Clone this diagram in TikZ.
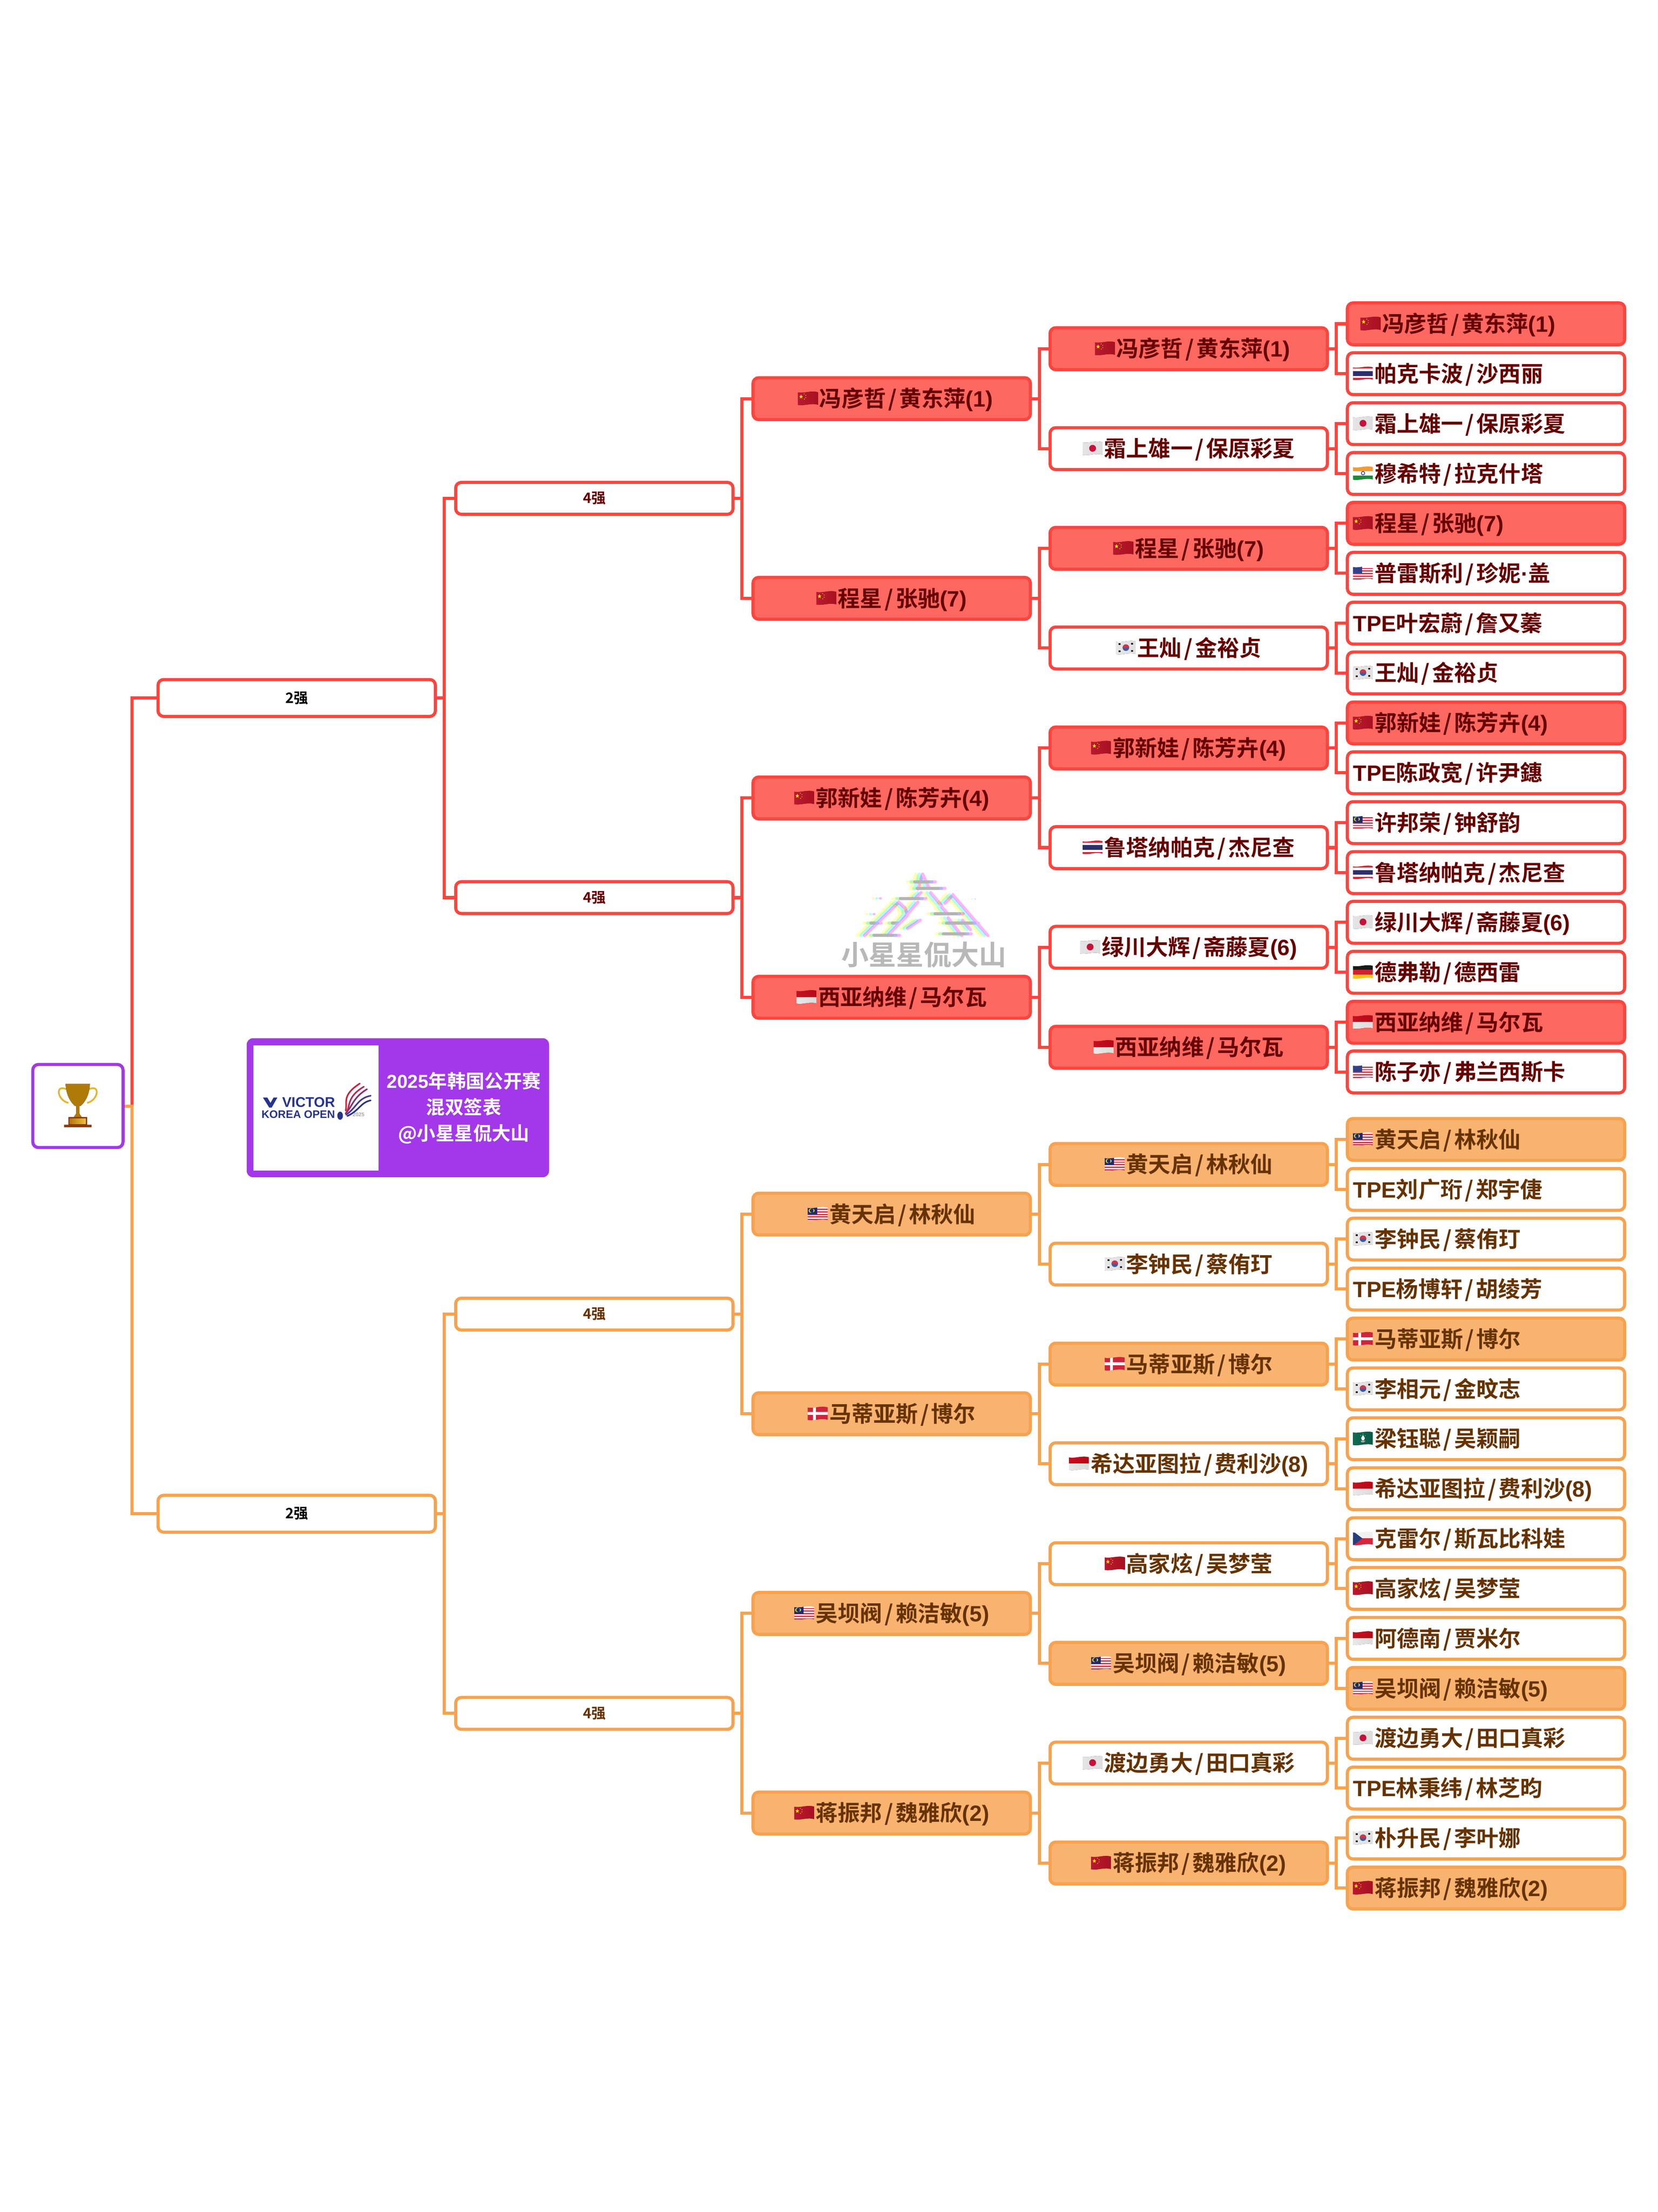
\documentclass[tikz,border=0pt]{standalone}
\usepackage{fontspec}
\usepackage{xcolor}
\usepackage{tikz}
\usetikzlibrary{calc}

\setmainfont[BoldFont={Noto Sans CJK SC Bold}]{Noto Sans CJK SC}
\newfontfamily\latinbold[BoldFont={Liberation Sans Bold}]{Liberation Sans}

\definecolor{redline}{HTML}{FB453F}
\definecolor{redfill}{HTML}{FD6860}
\definecolor{redtext}{HTML}{660000}
\definecolor{orgline}{HTML}{F7A24F}
\definecolor{orgfill}{HTML}{F9B370}
\definecolor{orgtext}{HTML}{663300}
\definecolor{rootline}{HTML}{A238E9}
\definecolor{logoblue}{HTML}{27348B}
\definecolor{wmgray}{HTML}{B8B8B8}
\definecolor{wmy}{HTML}{FFFFB4}
\definecolor{wmc}{HTML}{B4FFFF}
\definecolor{wmm}{HTML}{FFB4FF}
\definecolor{golddark}{HTML}{B07A08}
\definecolor{goldlight}{HTML}{F2C23C}
\definecolor{plinth}{HTML}{8A3A0E}
% colours of the flags and the feather, named by their value
\newcommand{\hexcol}[1]{\definecolor{#1}{HTML}{#1}}
\hexcol{B81A30}\hexcol{D43048}\hexcol{A81020}\hexcol{D72638}\hexcol{2B2F6E}\hexcol{E4E4E4}
\hexcol{DDDDDD}\hexcol{C8103A}\hexcol{F39A33}\hexcol{1E8A3A}\hexcol{1F2F8A}\hexcol{D8344A}
\hexcol{34408A}\hexcol{E6E6E6}\hexcol{E0E0E0}\hexcol{3A5FA0}\hexcol{D0344A}\hexcol{E8E8E8}
\hexcol{DCDCDC}\hexcol{C41020}\hexcol{E02A30}\hexcol{B80818}\hexcol{1C2A72}\hexcol{D0243C}
\hexcol{0F6B52}\hexcol{0A5A46}\hexcol{F5C518}\hexcol{D4202C}\hexcol{1A1A1A}\hexcol{D8243C}
\hexcol{F0F0F0}\hexcol{24407A}\hexcol{D0203C}\hexcol{B02A5C}\hexcol{8A3070}\hexcol{4A3A90}

% seed numbers and the slash between the two players
\newcommand{\seednum}[1]{{\latinbold(#1)}}
\newcommand{\pairsep}{\hbox to .6em{\hss/\hss}}
\newcommand{\tpe}{{\latinbold TPE}}

% flags, drawn inside the node text
\newcommand{\natflag}[1]{\tikz[x=1pt,y=1pt,sharp corners,baseline=-.66pt]{%
  \path[use as bounding box] (0,0) rectangle (6.9,4);
  \clip (0,0) .. controls (2.2,-.4) and (4,.7) .. (6.4,.05) -- (6.4,4.05)
     .. controls (4,4.7) and (2.2,3.6) .. (0,4) -- cycle;
  \csname flag#1\endcsname}}
\newcommand{\flagcn}{%
  \fill[left color=B81A30,middle color=D43048,right color=A81020] (0,-1) rectangle (6.4,5);
  \fill[yellow!90!orange] (1,3.35) -- (1.18,2.85) -- (1.6,2.85) -- (1.27,2.55) -- (1.4,2.05)
     -- (1,2.35) -- (.6,2.05) -- (.73,2.55) -- (.4,2.85) -- (.82,2.85) -- cycle;
  \foreach \sx/\sy in {2/3.5,2.5/3.05,2.5/2.35,2.05/1.85} \fill[yellow] (\sx,\sy) circle (.14);}
\newcommand{\flagth}{%
  \fill[D72638] (0,-1) rectangle (6.4,5);
  \fill[white] (0,.6) rectangle (6.4,3.6);
  \fill[2B2F6E] (0,1.3) rectangle (6.4,2.8);}
\newcommand{\flagjp}{%
  \fill[left color=E4E4E4,middle color=white,right color=DDDDDD] (0,-1) rectangle (6.4,5);
  \fill[C8103A] (3.2,2.1) circle (1.1);}
\newcommand{\flagin}{%
  \fill[white] (0,-1) rectangle (6.4,5);
  \fill[F39A33] (0,2.8) rectangle (6.4,5);
  \fill[1E8A3A] (0,-1) rectangle (6.4,1.35);
  \draw[1F2F8A,line width=.2pt] (3.2,2.1) circle (.55);}
\newcommand{\flagus}{%
  \fill[white] (0,-1) rectangle (6.4,5);
  \foreach \sy in {0,1,2,3,4} \fill[D8344A] (0,\sy*.82+.05) rectangle (6.4,\sy*.82+.45);
  \fill[34408A] (0,2) rectangle (2.9,5);}
\newcommand{\flagkr}{%
  \fill[left color=E6E6E6,middle color=white,right color=E0E0E0] (0,-1) rectangle (6.4,5);
  \fill[3A5FA0] (3.2,2.1) circle (1.05);
  \fill[D0344A] (2.15,2.1) arc (180:0:1.05) -- (2.15,2.1);
  \fill[black] (.9,3) rectangle (1.5,3.5) (4.9,3.1) rectangle (5.5,3.6)
     (.9,.7) rectangle (1.5,1.2) (4.9,.8) rectangle (5.5,1.3);}
\newcommand{\flagid}{%
  \fill[left color=E8E8E8,middle color=white,right color=DCDCDC] (0,-1) rectangle (6.4,2.1);
  \fill[left color=C41020,middle color=E02A30,right color=B80818] (0,2.1) rectangle (6.4,5);}
\newcommand{\flagmy}{%
  \fill[white] (0,-1) rectangle (6.4,5);
  \foreach \sy in {0,1,2,3,4} \fill[D8344A] (0,\sy*.82+.05) rectangle (6.4,\sy*.82+.45);
  \fill[1C2A72] (0,1.9) rectangle (3,5);
  \fill[yellow!90!orange] (1.7,3.1) circle (.5);
  \fill[yellow!90!orange] (1,3.1) circle (.7);
  \fill[1C2A72] (1.25,3.1) circle (.62);}
\newcommand{\flagdk}{%
  \fill[D0243C] (0,-1) rectangle (6.4,5);
  \fill[white] (1.7,-1) rectangle (2.6,5) (0,1.65) rectangle (6.4,2.55);}
\newcommand{\flagmo}{%
  \fill[left color=0F6B52,right color=0A5A46] (0,-1) rectangle (6.4,5);
  \fill[white] (2.6,2.2) -- (3.2,3.2) -- (3.8,2.2) -- (3.5,1.5) -- (2.9,1.5) -- cycle;
  \foreach \sx/\sy in {2.5/3,3.2/3.5,3.9/3} \fill[yellow] (\sx,\sy) circle (.12);
  \draw[white,line width=.18pt] (2.5,1.25) -- (3.9,1.25) (2.7,.95) -- (3.7,.95);}
\newcommand{\flagde}{%
  \fill[F5C518] (0,-1) rectangle (6.4,1.3);
  \fill[D4202C] (0,1.3) rectangle (6.4,2.75);
  \fill[1A1A1A] (0,2.75) rectangle (6.4,5);}
\newcommand{\flagcz}{%
  \fill[D8243C] (0,-1) rectangle (6.4,2.1);
  \fill[F0F0F0] (0,2.1) rectangle (6.4,5);
  \fill[24407A] (0,-.2) -- (3,2.1) -- (0,4.4) -- cycle;}

% the mountain of the watermark, in coordinates of its own
\newcommand{\wmlines}{%
  \draw (650,255) -- (620,380) (650,255) -- (690,370) (600,320) -- (730,320)
    (615,375) -- (790,375) (510,460) -- (670,460) (728,587) -- (905,587)
    (345,767) -- (505,767) (780,755) -- (955,755)
    (640,410) -- (610,450) (700,410) -- (770,520)
    (285,770) -- (440,570) -- (500,490) -- (540,540) -- (555,600) -- (430,770)
    (620,490) -- (510,660) (555,710) -- (635,640)
    (790,500) -- (840,430) -- (1060,770) (770,530) -- (810,590)
    (810,620) -- (895,770) (900,640) -- (950,720)
    (325,665) -- (390,665) (460,665) -- (500,665) (800,665) -- (1000,665);
  \fill (385,458) circle (10) (345,590) circle (10) (980,462) circle (5);}

\tikzset{
  seat/.style={draw, rectangle, rounded corners=1.8pt, line width=1pt, inner sep=0pt,
    minimum width=88.8pt, minimum height=13.4pt, text height=6.3pt, text depth=1pt,
    font=\fontsize{7.1}{8}\selectfont\bfseries},
  redseat/.style={seat, draw=redline, text=redtext, fill=white},
  orgseat/.style={seat, draw=orgline, text=orgtext, fill=white},
  redwin/.style={redseat, fill=redfill},
  orgwin/.style={orgseat, fill=orgfill},
  leaf/.style={text width=85.2pt, align=left},
  semi/.style={minimum height=10.2pt, text height=3.8pt, text depth=.6pt,
    font=\fontsize{4.6}{5}\selectfont\bfseries},
  final/.style={minimum height=11.8pt, text height=3.8pt, text depth=.6pt, text=black,
    font=\fontsize{4.6}{5}\selectfont\bfseries},
  link/.style={line width=1pt,
    to path={(\tikztostart.east) -- ++(24,0) |- (\tikztotarget.west)}},
  redlink/.style={link, draw=redline},
  orglink/.style={link, draw=orgline},
}

\begin{document}
\begin{tikzpicture}[x=.1pt,y=-.1pt]
  \useasboundingbox (0,0) rectangle (5308,7080);

  % watermark
  \begin{scope}[shift={(2600,2700)},x=.05102pt,y=-.03827pt,line width=1pt,line cap=round]
    \foreach \wmcol/\wmdx in {wmy/0,wmc/22,wmm/44} {
      \begin{scope}[shift={(\wmdx,0)},draw=\wmcol,fill=\wmcol,blend mode=multiply]
        \wmlines
      \end{scope}
    }
  \end{scope}
  \node[inner sep=0pt, text=wmgray, font=\fontsize{8.8}{9}\selectfont\bfseries] (wmark) at (2958,3056) {小星星侃大山};

  % title card
  \node[fill=rootline, rectangle, rounded corners=2pt, inner sep=0pt, minimum width=96.8pt, minimum height=44.5pt] (card) at (1274,3545.5) {};
  \node[fill=white, inner sep=0pt, minimum width=40pt, minimum height=40pt] (logobox) at (1012,3546) {};
  \node[text=white, align=center, inner sep=0pt, font=\fontsize{6}{8.4}\selectfont\bfseries] (cardtext) at (1485,3546) {{\latinbold 2025}年韩国公开赛\\混双签表\\@小星星侃大山};
  \node[text=logoblue, inner sep=0pt, font=\latinbold\bfseries\fontsize{4.5}{5}\selectfont] (victor) at (988,3528) {VICTOR};
  \node[text=logoblue, inner sep=0pt, font=\latinbold\bfseries\fontsize{3.5}{4}\selectfont] (koreaopen) at (955,3567) {KOREA OPEN};
  \node[text=gray!70, inner sep=0pt, font=\latinbold\bfseries\fontsize{1.7}{2}\selectfont] (logoyear) at (1148,3567) {2025};
  \fill[logoblue] (842,3513) -- (856,3513) -- (866,3530) -- (876,3513) -- (888,3513) -- (870,3545) -- (862,3545) -- cycle;
  \begin{scope}[line width=.5pt, line cap=round]
    \draw[D0203C] (1152,3468) .. controls (1095,3505) and (1112,3525) .. (1107,3555);
    \draw[B02A5C] (1165,3478) .. controls (1112,3510) and (1122,3535) .. (1110,3560);
    \draw[8A3070] (1175,3486) .. controls (1128,3515) and (1130,3540) .. (1106,3564);
    \draw[4A3A90] (1187,3507) .. controls (1145,3515) and (1142,3545) .. (1108,3568);
    \draw[logoblue] (1187,3522) .. controls (1155,3528) and (1150,3555) .. (1112,3572);
  \end{scope}
  \fill[logoblue] (1089,3571) ellipse (9 and 13);

  % root with the cup
  \node[draw=rootline, fill=white, rectangle, rounded corners=1.8pt, line width=1pt, inner sep=0pt, minimum width=28.9pt, minimum height=26.6pt] (root) at (249.5,3540) {};
  \begin{scope}[shift={(249,3540)}]
    \draw[goldlight!80!golddark, line width=.55pt] (-37,-54) .. controls (-74,-70) and (-65,-18) .. (-30,-10);
    \draw[goldlight!80!golddark, line width=.55pt] (37,-54) .. controls (74,-70) and (65,-18) .. (30,-10);
    \fill[left color=golddark, middle color=goldlight, right color=golddark] (-39,-71) -- (39,-71) .. controls (37,-35) and (25,-15) .. (9,0) -- (-9,0) .. controls (-25,-15) and (-37,-35) .. (-39,-71) -- cycle;
    \fill[left color=golddark, middle color=goldlight, right color=golddark] (-5,0) -- (5,0) -- (5,24) -- (13,36) -- (-13,36) -- (-5,24) -- cycle;
    \fill[plinth] (-30,35) rectangle (30,62) (-44,60) rectangle (44,68);
    \fill[left color=golddark, right color=goldlight] (-26,41) rectangle (26,58);
  \end{scope}

  % red half
  \node[redseat,final] (rf1) at (950,2234) {2强};
  \node[redseat,semi] (rs1) at (1903,1595) {4强};
  \node[redseat,semi] (rs2) at (1903,2873) {4强};
  \node[redwin] (rq1) at (2855,1276) {\hspace{2.4pt}\natflag{cn}冯彦哲\pairsep 黄东萍\seednum{1}};
  \node[redwin] (rq2) at (2855,1915) {\natflag{cn}程星\pairsep 张驰\seednum{7}};
  \node[redwin] (rq3) at (2855,2554) {\natflag{cn}郭新娃\pairsep 陈芳卉\seednum{4}};
  \node[redwin] (rq4) at (2855,3192) {\natflag{id}西亚纳维\pairsep 马尔瓦};
  \node[redwin] (re1) at (3806,1116) {\hspace{2.4pt}\natflag{cn}冯彦哲\pairsep 黄东萍\seednum{1}};
  \node[redseat] (re2) at (3806,1436) {\natflag{jp}霜上雄一\pairsep 保原彩夏};
  \node[redwin] (re3) at (3806,1755) {\natflag{cn}程星\pairsep 张驰\seednum{7}};
  \node[redseat] (re4) at (3806,2074) {\natflag{kr}王灿\pairsep 金裕贞};
  \node[redwin] (re5) at (3806,2394) {\natflag{cn}郭新娃\pairsep 陈芳卉\seednum{4}};
  \node[redseat] (re6) at (3806,2713) {\natflag{th}鲁塔纳帕克\pairsep 杰尼查};
  \node[redseat] (re7) at (3806,3032) {\natflag{jp}绿川大辉\pairsep 斋藤夏\seednum{6}};
  \node[redwin] (re8) at (3806,3352) {\natflag{id}西亚纳维\pairsep 马尔瓦};
  \node[redwin,leaf] (rl1) at (4758,1036.5) {\hspace{2.4pt}\natflag{cn}冯彦哲\pairsep 黄东萍\seednum{1}};
  \node[redseat,leaf] (rl2) at (4758,1196) {\natflag{th}帕克卡波\pairsep 沙西丽};
  \node[redseat,leaf] (rl3) at (4758,1356) {\natflag{jp}霜上雄一\pairsep 保原彩夏};
  \node[redseat,leaf] (rl4) at (4758,1515.5) {\natflag{in}穆希特\pairsep 拉克什塔};
  \node[redwin,leaf] (rl5) at (4758,1675) {\natflag{cn}程星\pairsep 张驰\seednum{7}};
  \node[redseat,leaf] (rl6) at (4758,1835) {\natflag{us}普雷斯利\pairsep 珍妮{\latinbold ·}盖};
  \node[redseat,leaf] (rl7) at (4758,1994.5) {\tpe 叶宏蔚\pairsep 詹又蓁};
  \node[redseat,leaf] (rl8) at (4758,2154) {\natflag{kr}王灿\pairsep 金裕贞};
  \node[redwin,leaf] (rl9) at (4758,2314) {\natflag{cn}郭新娃\pairsep 陈芳卉\seednum{4}};
  \node[redseat,leaf] (rl10) at (4758,2473.5) {\tpe 陈政宽\pairsep 许尹鏸};
  \node[redseat,leaf] (rl11) at (4758,2633) {\natflag{my}许邦荣\pairsep 钟舒韵};
  \node[redseat,leaf] (rl12) at (4758,2793) {\natflag{th}鲁塔纳帕克\pairsep 杰尼查};
  \node[redseat,leaf] (rl13) at (4758,2952) {\natflag{jp}绿川大辉\pairsep 斋藤夏\seednum{6}};
  \node[redseat,leaf] (rl14) at (4758,3112) {\natflag{de}德弗勒\pairsep 德西雷};
  \node[redwin,leaf] (rl15) at (4758,3272) {\natflag{id}西亚纳维\pairsep 马尔瓦};
  \node[redseat,leaf] (rl16) at (4758,3431) {\natflag{us}陈子亦\pairsep 弗兰西斯卡};

  % orange half
  \node[orgseat,final] (of1) at (950,4845) {2强};
  \node[orgseat,semi] (os1) at (1903,4206) {4强};
  \node[orgseat,semi] (os2) at (1903,5484) {4强};
  \node[orgwin] (oq1) at (2855,3886) {\natflag{my}黄天启\pairsep 林秋仙};
  \node[orgwin] (oq2) at (2855,4525) {\natflag{dk}马蒂亚斯\pairsep 博尔};
  \node[orgwin] (oq3) at (2855,5164) {\natflag{my}吴坝阀\pairsep 赖洁敏\seednum{5}};
  \node[orgwin] (oq4) at (2855,5803) {\natflag{cn}蒋振邦\pairsep 魏雅欣\seednum{2}};
  \node[orgwin] (oe1) at (3806,3727) {\natflag{my}黄天启\pairsep 林秋仙};
  \node[orgseat] (oe2) at (3806,4046) {\natflag{kr}李钟民\pairsep 蔡侑玎};
  \node[orgwin] (oe3) at (3806,4366) {\natflag{dk}马蒂亚斯\pairsep 博尔};
  \node[orgseat] (oe4) at (3806,4685) {\natflag{id}希达亚图拉\pairsep 费利沙\seednum{8}};
  \node[orgseat] (oe5) at (3806,5005) {\natflag{cn}高家炫\pairsep 吴梦莹};
  \node[orgwin] (oe6) at (3806,5324) {\natflag{my}吴坝阀\pairsep 赖洁敏\seednum{5}};
  \node[orgseat] (oe7) at (3806,5643) {\natflag{jp}渡边勇大\pairsep 田口真彩};
  \node[orgwin] (oe8) at (3806,5963) {\natflag{cn}蒋振邦\pairsep 魏雅欣\seednum{2}};
  \node[orgwin,leaf] (ol1) at (4758,3647) {\natflag{my}黄天启\pairsep 林秋仙};
  \node[orgseat,leaf] (ol2) at (4758,3807) {\tpe 刘广珩\pairsep 郑宇倢};
  \node[orgseat,leaf] (ol3) at (4758,3966) {\natflag{kr}李钟民\pairsep 蔡侑玎};
  \node[orgseat,leaf] (ol4) at (4758,4126) {\tpe 杨博轩\pairsep 胡绫芳};
  \node[orgwin,leaf] (ol5) at (4758,4286) {\natflag{dk}马蒂亚斯\pairsep 博尔};
  \node[orgseat,leaf] (ol6) at (4758,4445.5) {\natflag{kr}李相元\pairsep 金旼志};
  \node[orgseat,leaf] (ol7) at (4758,4605) {\natflag{mo}梁钰聪\pairsep 吴颖嗣};
  \node[orgseat,leaf] (ol8) at (4758,4765) {\natflag{id}希达亚图拉\pairsep 费利沙\seednum{8}};
  \node[orgseat,leaf] (ol9) at (4758,4925) {\natflag{cz}克雷尔\pairsep 斯瓦比科娃};
  \node[orgseat,leaf] (ol10) at (4758,5084) {\natflag{cn}高家炫\pairsep 吴梦莹};
  \node[orgseat,leaf] (ol11) at (4758,5244) {\natflag{id}阿德南\pairsep 贾米尔};
  \node[orgwin,leaf] (ol12) at (4758,5404) {\natflag{my}吴坝阀\pairsep 赖洁敏\seednum{5}};
  \node[orgseat,leaf] (ol13) at (4758,5563.5) {\natflag{jp}渡边勇大\pairsep 田口真彩};
  \node[orgseat,leaf] (ol14) at (4758,5723) {\tpe 林秉纬\pairsep 林芝昀};
  \node[orgseat,leaf] (ol15) at (4758,5883) {\natflag{kr}朴升民\pairsep 李叶娜};
  \node[orgwin,leaf] (ol16) at (4758,6043) {\natflag{cn}蒋振邦\pairsep 魏雅欣\seednum{2}};

  \path
    (root) edge [redlink] (rf1)
    (rf1) edge [redlink] (rs1) (rf1) edge [redlink] (rs2)
    (rs1) edge [redlink] (rq1) (rs1) edge [redlink] (rq2)
    (rs2) edge [redlink] (rq3) (rs2) edge [redlink] (rq4)
    (rq1) edge [redlink] (re1) (rq1) edge [redlink] (re2)
    (rq2) edge [redlink] (re3) (rq2) edge [redlink] (re4)
    (rq3) edge [redlink] (re5) (rq3) edge [redlink] (re6)
    (rq4) edge [redlink] (re7) (rq4) edge [redlink] (re8)
    (re1) edge [redlink] (rl1) (re1) edge [redlink] (rl2)
    (re2) edge [redlink] (rl3) (re2) edge [redlink] (rl4)
    (re3) edge [redlink] (rl5) (re3) edge [redlink] (rl6)
    (re4) edge [redlink] (rl7) (re4) edge [redlink] (rl8)
    (re5) edge [redlink] (rl9) (re5) edge [redlink] (rl10)
    (re6) edge [redlink] (rl11) (re6) edge [redlink] (rl12)
    (re7) edge [redlink] (rl13) (re7) edge [redlink] (rl14)
    (re8) edge [redlink] (rl15) (re8) edge [redlink] (rl16);
  \path
    (root) edge [orglink] (of1)
    (of1) edge [orglink] (os1) (of1) edge [orglink] (os2)
    (os1) edge [orglink] (oq1) (os1) edge [orglink] (oq2)
    (os2) edge [orglink] (oq3) (os2) edge [orglink] (oq4)
    (oq1) edge [orglink] (oe1) (oq1) edge [orglink] (oe2)
    (oq2) edge [orglink] (oe3) (oq2) edge [orglink] (oe4)
    (oq3) edge [orglink] (oe5) (oq3) edge [orglink] (oe6)
    (oq4) edge [orglink] (oe7) (oq4) edge [orglink] (oe8)
    (oe1) edge [orglink] (ol1) (oe1) edge [orglink] (ol2)
    (oe2) edge [orglink] (ol3) (oe2) edge [orglink] (ol4)
    (oe3) edge [orglink] (ol5) (oe3) edge [orglink] (ol6)
    (oe4) edge [orglink] (ol7) (oe4) edge [orglink] (ol8)
    (oe5) edge [orglink] (ol9) (oe5) edge [orglink] (ol10)
    (oe6) edge [orglink] (ol11) (oe6) edge [orglink] (ol12)
    (oe7) edge [orglink] (ol13) (oe7) edge [orglink] (ol14)
    (oe8) edge [orglink] (ol15) (oe8) edge [orglink] (ol16);
\end{tikzpicture}
\end{document}
